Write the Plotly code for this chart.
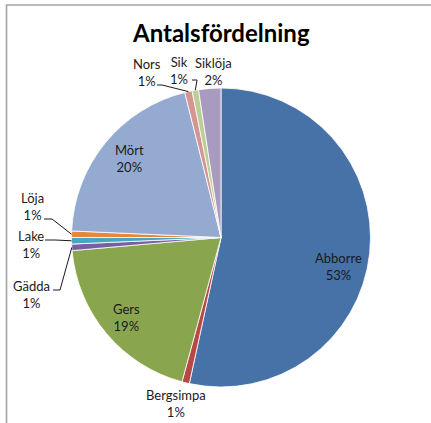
import math
import plotly.graph_objects as go

# ---- data ----
categories = ["Abborre", "Bergsimpa", "Gers", "Gädda", "Lake", "Löja", "Mört", "Nors", "Sik", "Siklöja"]
values = [53.4, 0.8, 19.4, 0.7, 0.7, 0.7, 20.4, 0.8, 0.7, 2.4]
colors = ["#4672A8", "#B84746", "#89A64E", "#7860A0", "#45A7C1", "#E8873C",
          "#94AAD0", "#D49593", "#BBCE98", "#A99BC0"]
title_text = "Antalsfördelning"

# ---- layout (pixels) ----
W, H = 431, 423
CX, CY, R = 221, 237.5, 149.5
FONT = "Lato, Calibri, sans-serif"

# label block centres (px)
label_pos = {
    "Abborre": (338, 266), "Bergsimpa": (176, 403.5), "Gers": (126, 317),
    "Gädda": (31, 294.5), "Lake": (31, 244.5), "Löja": (32, 206.5),
    "Mört": (129, 158.5), "Nors": (147, 72), "Sik": (179, 70), "Siklöja": (213, 71.5),
}
# leader line start points (px) for labels with leader lines
leader_start = {
    "Nors": [(157, 85), (162, 85)],
    "Sik": [(192, 80), (197, 80)],
    "Löja": [(44, 219), (52, 219)],
    "Lake": [(45, 240), (55, 240)],
    "Gädda": [(53, 290), (60, 290)],
}

total = sum(values)
fig = go.Figure()
fig.add_trace(go.Pie(
    labels=categories, values=values, sort=False, direction="clockwise", rotation=0,
    marker=dict(colors=colors, line=dict(color="white", width=0.8)),
    textinfo="none", hoverinfo="label+percent", showlegend=False,
    domain=dict(x=[(CX - R) / W, (CX + R) / W], y=[(H - CY - R) / H, (H - CY + R) / H]),
))

# overlay axes covering the whole figure in pixel units
fig.add_trace(go.Scatter(x=[0, W], y=[0, H], mode="markers", marker=dict(opacity=0),
                         hoverinfo="skip", showlegend=False))

annotations = []
shapes = []
cum = 0.0
for cat, v in zip(categories, values):
    mid = (cum + v / 2) / total
    cum += v
    pct = round(100 * v / total)
    lx, ly = label_pos[cat]
    annotations.append(dict(x=lx, y=ly, xref="x", yref="y", text=f"{cat}<br>{pct}%",
                            showarrow=False, xanchor="center", yanchor="middle",
                            font=dict(family=FONT, size=13, color="#1a1a1a")))
    if cat in leader_start:
        ang = 2 * math.pi * mid
        ex, ey = CX + R * math.sin(ang), CY - R * math.cos(ang)
        pts = leader_start[cat] + [(ex, ey)]
        path = "M " + " L ".join(f"{px},{py}" for px, py in pts)
        shapes.append(dict(type="path", path=path, xref="x", yref="y",
                           line=dict(color="#1a1a1a", width=1)))

annotations.append(dict(x=CX, y=32, xref="x", yref="y", text=f"<b>{title_text}</b>",
                        showarrow=False, xanchor="center", yanchor="middle",
                        font=dict(family=FONT, size=24, color="#000000")))

# chart frame
shapes.append(dict(type="line", x0=6.5, x1=6.5, y0=4.5, y1=H + 5, xref="x", yref="y",
                   line=dict(color="#A3A3A3", width=1.6)))
shapes.append(dict(type="line", x0=6.5, x1=W + 5, y0=5, y1=5, xref="x", yref="y",
                   line=dict(color="#A3A3A3", width=1.6)))

fig.update_layout(
    width=W, height=H, margin=dict(l=0, r=0, t=0, b=0),
    paper_bgcolor="white", plot_bgcolor="rgba(0,0,0,0)",
    xaxis=dict(range=[0, W], visible=False, fixedrange=True, domain=[0, 1]),
    yaxis=dict(range=[H, 0], visible=False, fixedrange=True, domain=[0, 1]),
    annotations=annotations, shapes=shapes,
)
fig.write_html("out.html", config={"displayModeBar": False},
               post_script="document.body.style.margin='0';document.body.style.overflow='hidden';")
